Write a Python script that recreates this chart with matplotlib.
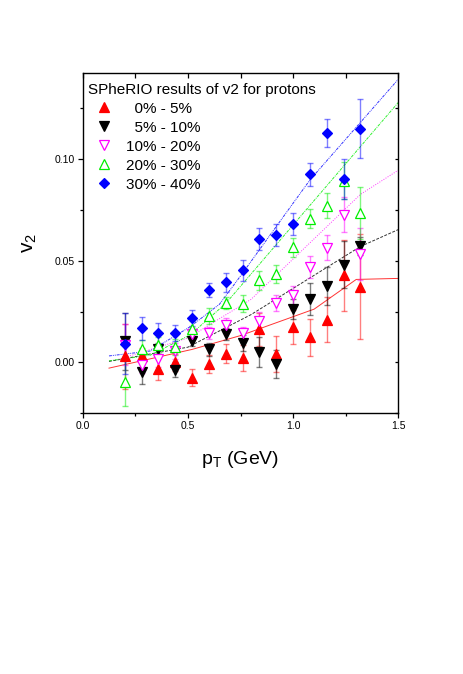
import matplotlib
matplotlib.use("Agg")
import matplotlib.pyplot as plt
from matplotlib.lines import Line2D

plt.rcParams["font.family"] = ["Liberation Sans", "DejaVu Sans"]

# ---------------------------------------------------------------- data
pt = [0.20, 0.28, 0.36, 0.44, 0.52, 0.60, 0.68, 0.76,
      0.84, 0.92, 1.00, 1.08, 1.16, 1.24, 1.32]

v2_0_5 = [0.003, 0.003, -0.003, 0.0, -0.0075, -0.0007, 0.0043, 0.0021,
          0.0162, 0.0043, 0.0175, 0.0124, 0.021, 0.0429, 0.0373]
err_0_5 = [0.016, 0.004, 0.0055, 0.004, 0.0042, 0.0045, 0.0048, 0.0064,
           0.0083, 0.0088, 0.0085, 0.0091, 0.0112, 0.0174, 0.0257]

v2_5_10 = [0.0104, -0.0046, 0.0066, -0.0036, 0.0107, 0.0064, 0.0138, 0.0097,
           0.0051, -0.0008, 0.0262, 0.031, 0.0376, 0.0481, 0.0572]
err_5_10 = [0.014, 0.0062, 0.003, 0.0037, 0.0025, 0.003, 0.003, 0.004,
            0.0073, 0.0069, 0.005, 0.0078, 0.0094, 0.0115, 0.0045]

v2_10_20 = [0.0087, -0.0014, 0.0019, 0.0056, 0.0142, 0.0143, 0.0186, 0.0143,
            0.0204, 0.0291, 0.0329, 0.0468, 0.0564, 0.0727, 0.0532]
err_10_20 = [0.010, 0.004, 0.004, 0.004, 0.003, 0.003, 0.003, 0.003,
             0.0045, 0.004, 0.0045, 0.0055, 0.0062, 0.0085, 0.0127]

v2_20_30 = [-0.0095, 0.0068, 0.0087, 0.0075, 0.0164, 0.023, 0.0292, 0.0289,
            0.0403, 0.0435, 0.0565, 0.0707, 0.077, 0.0893, 0.0733]
err_20_30 = [0.012, 0.004, 0.004, 0.004, 0.004, 0.004, 0.003, 0.004,
             0.0045, 0.0045, 0.0048, 0.0048, 0.0062, 0.009, 0.0127]

v2_30_40 = [0.0093, 0.0167, 0.0143, 0.0143, 0.0218, 0.0356, 0.0393, 0.0452,
            0.0606, 0.0625, 0.0681, 0.0925, 0.1128, 0.0900, 0.1148]
err_30_40 = [0.015, 0.0058, 0.005, 0.004, 0.004, 0.0035, 0.0045, 0.005,
             0.0054, 0.0053, 0.0054, 0.0057, 0.007, 0.0098, 0.0145]

fit_0_5_x = [0.125, 0.52, 0.75, 1.10, 1.30, 1.50]
fit_0_5_y = [-0.0028, 0.0064, 0.0132, 0.0262, 0.0408, 0.0413]
fit_5_10_x = [0.125, 0.50, 0.80, 1.32, 1.50]
fit_5_10_y = [0.0005, 0.0075, 0.0235, 0.0570, 0.0653]
fit_10_20_x = [0.17, 0.50, 0.80, 1.32, 1.50]
fit_10_20_y = [0.0015, 0.0120, 0.0310, 0.0826, 0.0945]
fit_20_30_x = [0.125, 0.32, 0.51, 0.68, 1.50]
fit_20_30_y = [0.0008, 0.0035, 0.0135, 0.0290, 0.1278]
fit_30_40_x = [0.125, 0.32, 0.51, 0.65, 0.75, 1.08, 1.50]
fit_30_40_y = [0.0032, 0.0056, 0.0175, 0.0286, 0.0425, 0.0897, 0.1392]

labels = ["  0% - 5%", "  5% - 10%", "10% - 20%", "20% - 30%", "30% - 40%"]

# ---------------------------------------------------------------- plot
fig = plt.figure(figsize=(4.63, 6.74), dpi=100)
ax = fig.add_axes([0.1786, 0.3868, 0.6817, 0.5044])

series = [
    (v2_0_5, err_0_5, fit_0_5_x, fit_0_5_y, "#ff0000", "^", True, 6.5, "-"),
    (v2_5_10, err_5_10, fit_5_10_x, fit_5_10_y, "#000000", "v", True, 6.5,
     (0, (3, 1.5))),
    (v2_10_20, err_10_20, fit_10_20_x, fit_10_20_y, "#ff00ff", "v", False, 6.5,
     (0, (1, 1.5))),
    (v2_20_30, err_20_30, fit_20_30_x, fit_20_30_y, "#00ee00", "^", False, 6.5,
     (0, (3, 1, 1, 1))),
    (v2_30_40, err_30_40, fit_30_40_x, fit_30_40_y, "#0000ff", "D", True, 5.2,
     (0, (3, 1, 1, 1, 1, 1))),
]

handles = []
for v, e, fx, fy, col, mk, filled, ms, ls in series:
    ax.plot(fx, fy, color=col, lw=0.7, ls=ls, alpha=0.8, zorder=1)
    ax.errorbar(pt, v, yerr=e, fmt="none", ecolor=col, elinewidth=1.0,
                capsize=2.3, capthick=1.0, alpha=0.5, zorder=2)
    ax.plot(pt, v, ls="none", marker=mk, ms=ms, mec=col,
            mfc=col if filled else "white", mew=0.9, zorder=3)
    handles.append(Line2D([], [], ls="none", marker=mk, ms=ms, mec=col,
                          mfc=col if filled else "white", mew=0.9))

ax.set_xlim(0.0, 1.5)
ax.set_ylim(-0.0198, 0.1421)
ax.set_xticks([0.0, 0.5, 1.0, 1.5])
ax.set_xticks([0.25, 0.75, 1.25], minor=True)
ax.set_yticks([0.00, 0.05, 0.10])
ax.set_yticks([-0.025, 0.025, 0.075, 0.125], minor=True)
ax.set_yticklabels(["0.00", "0.05", "0.10"])
ax.set_xticklabels(["0.0", "0.5", "1.0", "1.5"])

ax.tick_params(axis="both", which="major", labelsize=7.5, direction="out",
               length=3.8, width=0.9, pad=2)
ax.tick_params(axis="both", which="minor", direction="out", length=2.2,
               width=0.9)
ax.tick_params(axis="x", which="both", top=True)
ax.tick_params(axis="y", which="both", right=True)
# ticks on top / right point inward
for t in ax.xaxis.get_major_ticks() + ax.xaxis.get_minor_ticks():
    t.tick2line.set_marker(3)
    t.tick2line.set_markersize(3.5)
for t in ax.yaxis.get_major_ticks() + ax.yaxis.get_minor_ticks():
    t.tick2line.set_marker(0)
    t.tick2line.set_markersize(2)

for sp in ax.spines.values():
    sp.set_linewidth(1.0)

ax.set_xlabel(r"p$_\mathregular{T}$ (GeV)", fontsize=14, labelpad=13)
ax.set_ylabel(r"v$_\mathregular{2}$", fontsize=15, labelpad=11)

leg = ax.legend(handles, labels, title="SPheRIO results of v2 for protons",
                loc="upper left", bbox_to_anchor=(0.008, 0.982),
                frameon=False, fontsize=11, title_fontsize=11,
                alignment="left", borderaxespad=0, borderpad=0.2,
                labelspacing=0.33, handletextpad=0.5)

fig.savefig("out.png", dpi=100)
